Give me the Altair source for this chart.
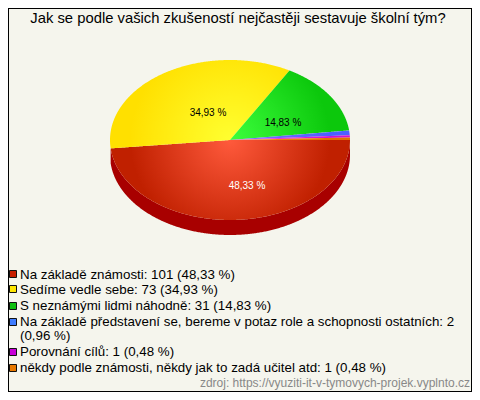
import math
import altair as alt
import pandas as pd

TITLE = "Jak se podle vašich zkušeností nejčastěji sestavuje školní tým?"
SOURCE = "zdroj: https://vyuziti-it-v-tymovych-projek.vyplnto.cz"
answers = ["Na základě známosti", "Sedíme vedle sebe", "S neznámými lidmi náhodně",
           "Na základě představení se, bereme v potaz role a schopnosti ostatních",
           "Porovnání cílů", "někdy podle známosti, někdy jak to zadá učitel atd"]
counts = [101, 73, 31, 2, 1, 1]
percents = ["48,33 %", "34,93 %", "14,83 %", "0,96 %", "0,48 %", "0,48 %"]
centre_colors = ["#ff5a3c", "#ffff30", "#3cff3c", "#8a70ff", "#ff30ff", "#ff9020"]
edge_colors = ["#c02000", "#ffe000", "#0cc80c", "#4a60ff", "#d010d0", "#e07000"]
swatch_colors = ["#c81e00", "#ffe600", "#10c010", "#3f7cff", "#c800d8", "#e87800"]
WALL = "#a80000"
BG = "#f5f5ed"

W, H = 464, 384
CX, CY, RX, RY, DEPTH = 222, 132, 120, 80, 15
GRAD_R = 100

xs = alt.X("x:Q", axis=None, scale=alt.Scale(domain=[0, W], range=[0, W]))
ys = alt.Y("y:Q", axis=None, scale=alt.Scale(domain=[H, 0], range=[H, 0]))
y2 = alt.Y2("y2:Q")


def ellipse_point(deg, dy=0):
    a = math.radians(deg)
    return CX + RX * math.cos(a), CY + RY * math.sin(a) + dy


def spans(poly):
    """Turn a closed polygon into x / y / y2 rows for an area mark."""
    grid = sorted({round(p[0], 3) for p in poly})
    rows = []
    n = len(poly)
    for gx in grid:
        hits = []
        for i in range(n):
            (x0, y0), (x1, y1) = poly[i], poly[(i + 1) % n]
            lo, hi = min(x0, x1), max(x0, x1)
            if lo - 1e-3 <= gx <= hi + 1e-3:
                if abs(x1 - x0) < 1e-6:
                    hits += [y0, y1]
                else:
                    t = min(1, max(0, (gx - x0) / (x1 - x0)))
                    hits.append(y0 + t * (y1 - y0))
        if hits:
            rows.append({"x": gx, "y": min(hits), "y2": max(hits)})
    return pd.DataFrame(rows)


def arc(a0, a1, dy=0):
    steps = max(2, int(abs(a1 - a0) * 2))
    return [ellipse_point(a0 + (a1 - a0) * i / steps, dy) for i in range(steps + 1)]


total = sum(counts)
layers = []
start = 0.0

# side wall of the first slice
red_end = 360 * counts[0] / total
top_edge = arc(0, red_end)
wall_poly = arc(0, red_end, DEPTH) + top_edge[::-1]
layers.append(alt.Chart(spans(wall_poly)).mark_area(color=WALL).encode(x=xs, y=ys, y2=y2))

for count, c_in, c_out in zip(counts, centre_colors, edge_colors):
    end = start + 360 * count / total
    poly = [(CX, CY)] + arc(start, end)
    bx0, bx1 = min(p[0] for p in poly), max(p[0] for p in poly)
    by0, by1 = min(p[1] for p in poly), max(p[1] for p in poly)
    side = max(bx1 - bx0, by1 - by0)
    u = 0.5 + (CX - (bx0 + bx1) / 2) / side
    v = 0.5 + (CY - (by0 + by1) / 2) / side
    grad = alt.RadialGradient(
        gradient="radial",
        stops=[alt.GradientStop(color=c_in, offset=0), alt.GradientStop(color=c_out, offset=1)],
        x1=u, y1=v, r1=0, x2=u, y2=v, r2=GRAD_R / side,
    )
    layers.append(alt.Chart(spans(poly)).mark_area(fill=grad).encode(x=xs, y=ys, y2=y2))
    start = end

# value labels on the pie
pie_labels = pd.DataFrame({
    "x": [239, 200, 275], "y": [178, 105, 115],
    "t": percents[:3], "c": ["#ffffff", "#000000", "#000000"],
})
layers.append(alt.Chart(pie_labels).mark_text(font="Liberation Sans", fontSize=10, baseline="middle").encode(
    x=xs, y=ys, text="t:N", color=alt.Color("c:N", scale=None)))

# title and source
layers.append(alt.Chart(pd.DataFrame({"x": [230], "y": [11], "t": [TITLE]})).mark_text(
    font="Liberation Sans", fontSize=14.8, color="#000000", baseline="middle").encode(x=xs, y=ys, text="t:N"))
layers.append(alt.Chart(pd.DataFrame({"x": [462], "y": [375], "t": [SOURCE]})).mark_text(
    font="Liberation Sans", fontSize=12, color="#888888", align="right", baseline="middle").encode(x=xs, y=ys, text="t:N"))

# legend
rows_y = [267, 282, 298, 314, 344, 360]
swatch_y = [266, 281, 298, 314, 344, 360]
legend_lines = []
for a, c, p, ry in zip(answers, counts, percents, rows_y):
    line = f"{a}: {c} ({p})"
    if len(line) > 75:
        legend_lines.append({"x": 12, "y": ry, "t": f"{a}: {c}"})
        legend_lines.append({"x": 12, "y": ry + 14, "t": f"({p})"})
    else:
        legend_lines.append({"x": 12, "y": ry, "t": line})
layers.append(alt.Chart(pd.DataFrame(legend_lines)).mark_text(
    font="Liberation Sans", fontSize=13.33, color="#000000", align="left", baseline="middle").encode(x=xs, y=ys, text="t:N"))
swatches = pd.DataFrame({"x": [5] * 6, "y": swatch_y, "c": swatch_colors})
layers.append(alt.Chart(swatches).mark_point(shape="square", filled=True, size=49, stroke="#111111", strokeWidth=1, opacity=1).encode(
    x=xs, y=ys, fill=alt.Fill("c:N", scale=None)))

# frame
frame = pd.DataFrame({"x": [0.5, W - 0.5, 0, 0], "x2": [0.5, W - 0.5, W, W], "y": [0, 0, 0.5, H - 0.5], "y2": [H, H, 0.5, H - 0.5]})
layers.append(alt.Chart(frame).mark_rule(color="#000000", strokeWidth=1).encode(x=xs, x2="x2:Q", y=ys, y2="y2:Q"))

chart = alt.layer(*layers).properties(
    width=W, height=H, background=BG, padding=0,
    autosize=alt.AutoSizeParams(type="none"),
).configure_view(stroke=None)

chart.save("out.html", embed_options={"renderer": "svg", "actions": False})
